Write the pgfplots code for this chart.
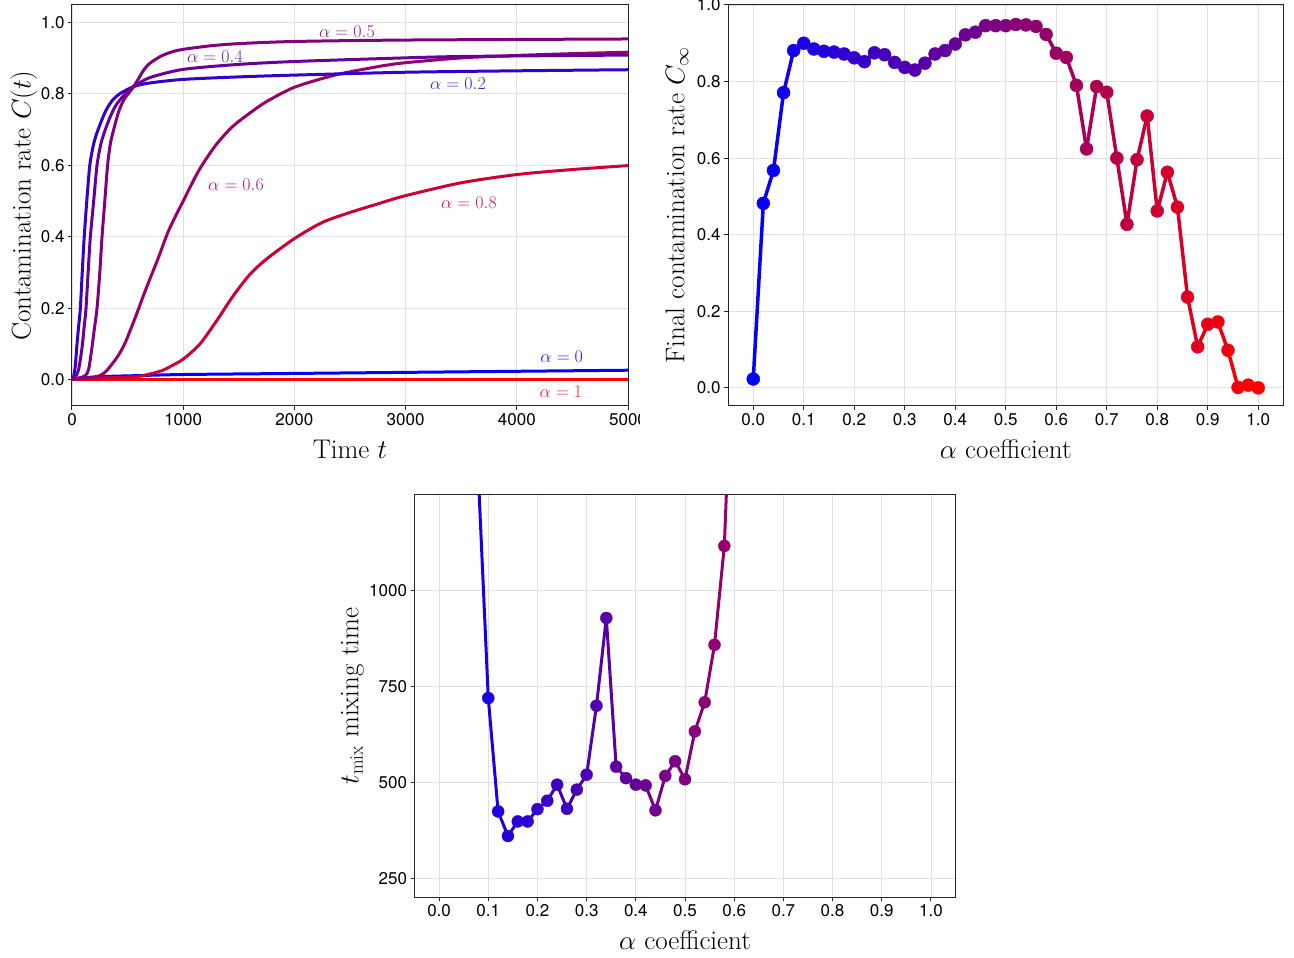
\documentclass[border=0pt]{standalone}
\usepackage{fix-cm}
\usepackage{fontspec}
\usepackage{pgfplots}
\usepackage{pgfplotstable}
\pgfplotsset{compat=1.18}
\newfontfamily\heros{TeX Gyre Heros}

\definecolor{a0}{rgb}{0,0,1}
\definecolor{a2}{rgb}{0.2,0,0.8}
\definecolor{a4}{rgb}{0.4,0,0.6}
\definecolor{a5}{rgb}{0.5,0,0.5}
\definecolor{a6}{rgb}{0.6,0,0.4}
\definecolor{a8}{rgb}{0.8,0,0.2}
\definecolor{a10}{rgb}{1,0,0}

\pgfplotstableread{
a c
0.00 0.023
0.02 0.482
0.04 0.568
0.06 0.771
0.08 0.881
0.10 0.900
0.12 0.885
0.14 0.879
0.16 0.877
0.18 0.872
0.20 0.862
0.22 0.852
0.24 0.875
0.26 0.870
0.28 0.850
0.30 0.837
0.32 0.830
0.34 0.848
0.36 0.872
0.38 0.881
0.40 0.898
0.42 0.922
0.44 0.929
0.46 0.946
0.48 0.946
0.50 0.946
0.52 0.949
0.54 0.948
0.56 0.944
0.58 0.923
0.60 0.874
0.62 0.863
0.64 0.790
0.66 0.624
0.68 0.787
0.70 0.772
0.72 0.600
0.74 0.427
0.76 0.596
0.78 0.710
0.80 0.462
0.82 0.563
0.84 0.472
0.86 0.237
0.88 0.107
0.90 0.166
0.92 0.172
0.94 0.098
0.96 0.001
0.98 0.007
1.00 0.000
}\cinf

\pgfplotstableread{
a t
0.08 1295
0.10 720
0.12 424
0.14 360
0.16 398
0.18 398
0.20 430
0.22 452
0.24 494
0.26 431
0.28 481
0.30 520
0.32 700
0.34 929
0.36 541
0.38 511
0.40 494
0.42 492
0.44 427
0.46 517
0.48 555
0.50 508
0.52 633
0.54 709
0.56 859
0.58 1117
0.60 1780
}\tmix

\pgfplotsset{
  myaxis/.style={
    scale only axis,
    anchor=south west,
    axis line style={black!85, line width=1pt},
    grid=major,
    major grid style={black!12, line width=0.8pt},
    tick style={black!85, line width=1pt},
    tick align=outside,
    major tick length=4pt,
    xtick pos=bottom, ytick pos=left,
    tick label style={font=\heros\fontsize{17}{17}\selectfont, black},
    /pgf/number format/assume math mode=true,
    label style={font=\fontsize{27}{27}\selectfont},
    colormap={br}{rgb255=(0,0,255) rgb255=(255,0,0)},
  },
  curve/.style={line width=3pt, line join=round, smooth, tension=0.45},
}

\begin{document}
\begin{tikzpicture}[x=1pt,y=1pt]
% ---------- top left ----------
\begin{scope}
\clip (0,0) rectangle (639,958);
\begin{axis}[myaxis,
  at={(72pt,552pt)}, width=556pt, height=401pt,
  xmin=0, xmax=5000, ymin=-0.073, ymax=1.048,
  xtick={0,1000,2000,3000,4000,5000},
  ytick={0,0.2,0.4,0.6,0.8,1},
  xticklabel style={/pgf/number format/1000 sep={}},
  yticklabel style={/pgf/number format/fixed, /pgf/number format/fixed zerofill, /pgf/number format/precision=1},
  xlabel={Time $t$},
  ylabel={Contamination rate $C(t)$},
  xlabel style={at={([yshift=-43pt]axis description cs:0.5,0)}, anchor=center},
  ylabel style={at={([xshift=-48pt]axis description cs:0,0.5)}, anchor=center},
]
\addplot[a10, line width=3pt] coordinates {(0,0.0) (5000,0.0)};
\addplot[a0, curve] coordinates {
(0,0.003) (250,0.009) (600,0.012) (1000,0.015) (2000,0.018) (3000,0.021) (4000,0.024) (5000,0.027)};
\addplot[a8, curve] coordinates {
(0,0.002) (300,0.006) (600,0.010) (800,0.025) (900,0.04) (1000,0.058) (1150,0.10) (1300,0.165) (1450,0.235) (1600,0.295) (1750,0.338) (2000,0.395) (2250,0.44) (2500,0.468) (2750,0.492) (3000,0.515) (3500,0.551) (4000,0.574) (4500,0.588) (5000,0.599)};
\addplot[a6, curve] coordinates {
(0,0.003) (150,0.005) (250,0.012) (300,0.022) (350,0.04) (420,0.07) (480,0.105) (570,0.175) (660,0.25) (780,0.344) (870,0.418) (1000,0.50) (1140,0.585) (1290,0.655) (1440,0.707) (1600,0.746) (1750,0.778) (2000,0.818) (2350,0.851) (2650,0.870) (2950,0.885) (3500,0.90) (4000,0.907) (4500,0.912) (5000,0.916)};
\addplot[a2, curve] coordinates {
(0,0.003) (15,0.01) (30,0.04) (45,0.1) (60,0.15) (75,0.2) (92,0.3) (110,0.4) (133,0.5) (160,0.6) (195,0.66) (235,0.7) (300,0.75) (360,0.78) (430,0.80) (555,0.82) (700,0.83) (1000,0.840) (1500,0.847) (2000,0.852) (3000,0.860) (4000,0.864) (5000,0.867)};
\addplot[a4, curve] coordinates {
(0,0.003) (30,0.008) (60,0.03) (90,0.09) (110,0.15) (126,0.2) (145,0.3) (165,0.4) (195,0.5) (225,0.6) (260,0.66) (300,0.7) (350,0.74) (400,0.77) (480,0.80) (555,0.82) (700,0.845) (1000,0.868) (1500,0.882) (2000,0.890) (2770,0.898) (3500,0.904) (5000,0.908)};
\addplot[a5, curve] coordinates {
(0,0.003) (60,0.005) (120,0.012) (150,0.03) (175,0.08) (200,0.14) (225,0.2) (250,0.3) (270,0.4) (295,0.5) (320,0.6) (345,0.66) (375,0.7) (420,0.75) (470,0.785) (555,0.82) (645,0.866) (700,0.885) (800,0.905) (900,0.917) (1000,0.924) (1250,0.934) (1500,0.940) (2000,0.946) (3000,0.950) (5000,0.953)};
\begin{scope}[every node/.style={font=\fontsize{18}{18}\selectfont, inner sep=0pt, anchor=center}]
\node[text=a5!88] at (axis cs:2473,0.973) {$\alpha=0.5$};
\node[text=a4!88] at (axis cs:1286,0.904) {$\alpha=0.4$};
\node[text=a2!88] at (axis cs:3471,0.827) {$\alpha=0.2$};
\node[text=a6!88] at (axis cs:1475,0.545) {$\alpha=0.6$};
\node[text=a8!88] at (axis cs:3570,0.495) {$\alpha=0.8$};
\node[text=a0!88] at (axis cs:4404,0.065) {$\alpha=0$};
\node[text=a10!88] at (axis cs:4397,-0.034) {$\alpha=1$};
\end{scope}
\end{axis}
\end{scope}
% ---------- top right ----------
\begin{axis}[myaxis,
  at={(728pt,552pt)}, width=555.5pt, height=401pt,
  xmin=-0.05, xmax=1.05, ymin=-0.0475, ymax=1.0,
  xtick={0,0.1,0.2,0.3,0.4,0.5,0.6,0.7,0.8,0.9,1},
  ytick={0,0.2,0.4,0.6,0.8,1},
  xticklabel style={/pgf/number format/fixed, /pgf/number format/fixed zerofill, /pgf/number format/precision=1},
  yticklabel style={/pgf/number format/fixed, /pgf/number format/fixed zerofill, /pgf/number format/precision=1},
  point meta min=0, point meta max=1,
  xlabel={$\alpha$ coefficient},
  ylabel={Final contamination rate $C_\infty$},
  xlabel style={at={([yshift=-43pt]axis description cs:0.5,0)}, anchor=center},
  ylabel style={at={([xshift=-51pt]axis description cs:0,0.5)}, anchor=center},
]
\addplot[mesh, point meta=x, line width=3.5pt] table[x=a, y=c] {\cinf};
\addplot[scatter, only marks, mark=*, mark size=6.5pt, point meta=x,
  scatter/use mapped color={draw=mapped color, fill=mapped color}] table[x=a, y=c] {\cinf};
\end{axis}
% ---------- bottom ----------
\begin{axis}[myaxis,
  at={(414.5pt,60.7pt)}, width=541pt, height=402.3pt,
  xmin=-0.05, xmax=1.05, ymin=200, ymax=1250,
  xtick={0,0.1,0.2,0.3,0.4,0.5,0.6,0.7,0.8,0.9,1},
  ytick={250,500,750,1000},
  xticklabel style={/pgf/number format/fixed, /pgf/number format/fixed zerofill, /pgf/number format/precision=1},
  yticklabel style={/pgf/number format/1000 sep={}},
  point meta min=0, point meta max=1,
  xlabel={$\alpha$ coefficient},
  ylabel={$t_{\mathrm{mix}}$ mixing time},
  xlabel style={at={([yshift=-43pt]axis description cs:0.5,0)}, anchor=center},
  ylabel style={at={([xshift=-62pt]axis description cs:0,0.5)}, anchor=center},
]
\addplot[mesh, point meta=x, line width=3pt] table[x=a, y=t] {\tmix};
\addplot[scatter, only marks, mark=*, mark size=6pt, point meta=x,
  scatter/use mapped color={draw=mapped color, fill=mapped color}] table[x=a, y=t] {\tmix};
\end{axis}
\pgfresetboundingbox
\path[use as bounding box] (0,0) rectangle (1294,958);
\end{tikzpicture}
\end{document}
